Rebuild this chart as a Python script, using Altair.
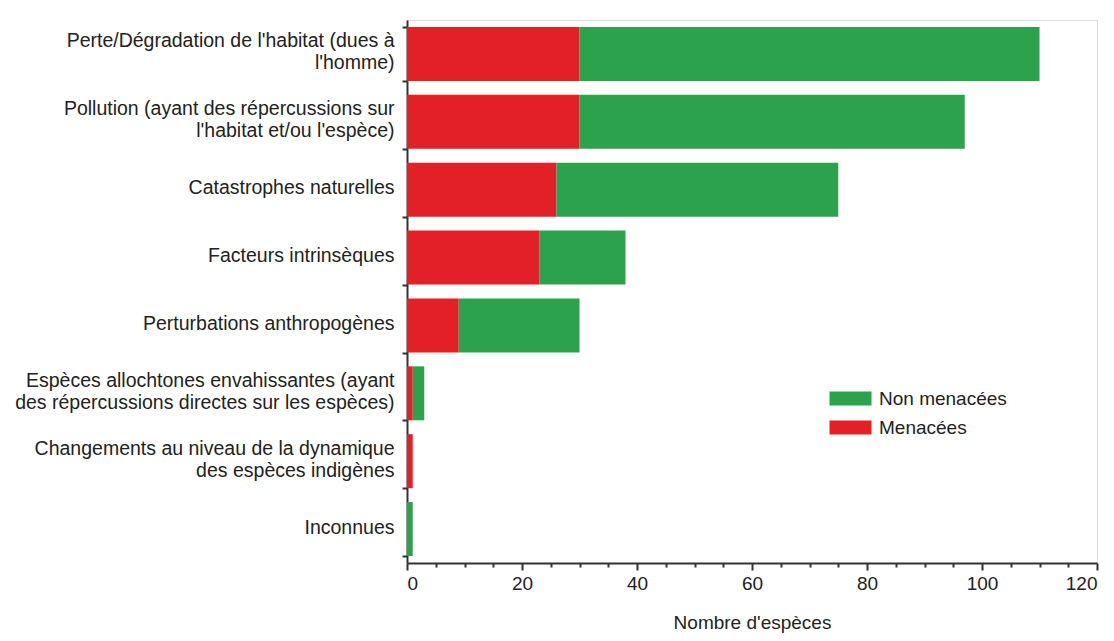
import altair as alt
import pandas as pd

categories = [
    "Perte/Dégradation de l'habitat (dues à|l'homme)",
    "Pollution (ayant des répercussions sur|l'habitat et/ou l'espèce)",
    "Catastrophes naturelles",
    "Facteurs intrinsèques",
    "Perturbations anthropogènes",
    "Espèces allochtones envahissantes (ayant|des répercussions directes sur les espèces)",
    "Changements au niveau de la dynamique|des espèces indigènes",
    "Inconnues",
]
menacees = [30, 30, 26, 23, 9, 1, 1, 0]
non_menacees = [80, 67, 49, 15, 21, 2, 0, 1]
series = ["Non menacées", "Menacées"]
colors = ["#2ca24c", "#e32027"]
x_ticks = list(range(0, 121, 5))

rows = []
for c, m, n in zip(categories, menacees, non_menacees):
    rows.append({"cat": c, "statut": "Menacées", "val": m, "ord": 0})
    rows.append({"cat": c, "statut": "Non menacées", "val": n, "ord": 1})
df = pd.DataFrame(rows)

font = "Liberation Sans"
txt = "#222"

chart = alt.Chart(df).mark_bar(size=54).encode(
    y=alt.Y("cat:N", sort=categories, title=None,
            scale=alt.Scale(paddingInner=0.2, paddingOuter=0.1),
            axis=alt.Axis(labelExpr="split(datum.label, '|')", tickBand="extent",
                          labelFontSize=19.5, labelFont=font, labelColor=txt,
                          labelLineHeight=22, labelPadding=8, tickSize=5,
                          labelOffset={"condition": {"test": "indexof(datum.label, '|') >= 0",
                                                     "value": -13}, "value": -2},
                          tickColor="#333", tickWidth=2, domainColor="#333",
                          domainWidth=2, labelLimit=400)),
    x=alt.X("val:Q", stack="zero", title="Nombre d'espèces",
            scale=alt.Scale(domain=[0, 120], nice=False),
            axis=alt.Axis(values=x_ticks,
                          labelExpr="datum.value % 20 == 0 ? datum.label : ''",
                          labelFontSize=19, labelFont=font, labelColor=txt,
                          titleFontSize=19, titleFont=font, titleColor=txt,
                          titleFontWeight="normal", titlePadding=20,
                          tickSize={"condition": {"test": "datum.value % 20 === 0", "value": 7},
                                    "value": 4},
                          tickColor="#333", tickWidth=2,
                          domainColor="#333", domainWidth=2, grid=False,
                          labelPadding=4)),
    color=alt.Color("statut:N", scale=alt.Scale(domain=series, range=colors),
                    legend=alt.Legend(title=None, orient="none", legendX=434, legendY=369,
                                      symbolType="M-3,-1L3,-1L3,1L-3,1Z",
                                      symbolSize=196, symbolStrokeWidth=0,
                                      labelFontSize=19, labelFont=font,
                                      labelColor=txt, labelOffset=19,
                                      rowPadding=9)),
    order=alt.Order("ord:Q"),
).properties(
    width=690, height=543,
    autosize=alt.AutoSizeParams(type="none"),
    padding={"left": 399, "top": 12, "right": 9, "bottom": 70},
).configure_view(
    stroke="#888", strokeWidth=2
).configure(background="white")

chart.save("out.html", embed_options={"renderer": "svg", "actions": False})
